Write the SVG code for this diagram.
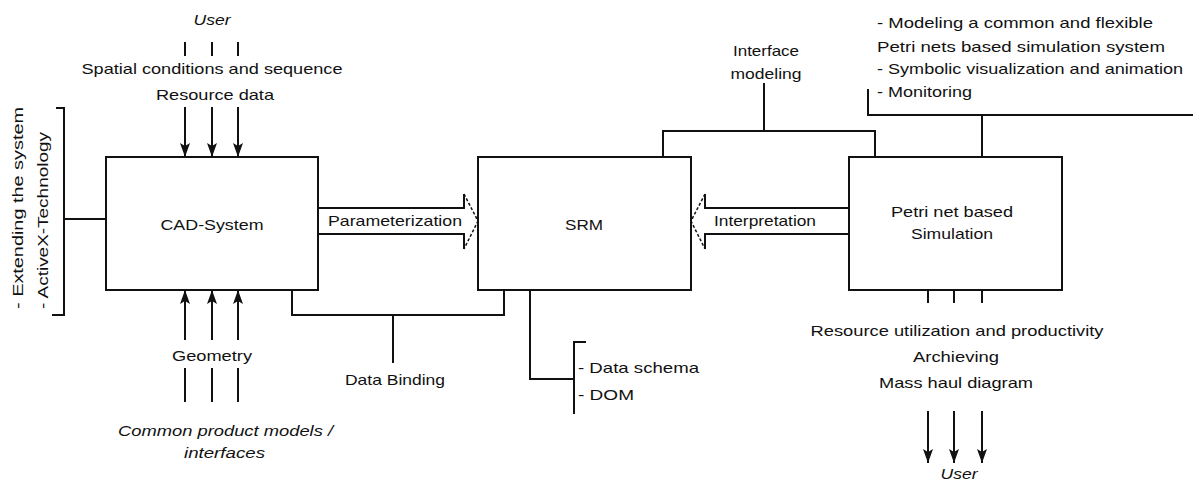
<svg xmlns="http://www.w3.org/2000/svg" width="1193" height="482" viewBox="0 0 1193 482">
<style>
text{font-family:"Liberation Sans",Arial,sans-serif;font-size:15px;fill:#111;}
.c{text-anchor:middle;}
.i{font-style:italic;}
.box{fill:#fff;stroke:#111;stroke-width:2;}
.ln{fill:none;stroke:#111;stroke-width:2;}
.dh{fill:none;stroke:#111;stroke-width:1.5;stroke-dasharray:3 2;}
</style>
<defs>
<marker id="ah" viewBox="0 0 14 10" refX="14" refY="5" markerWidth="14" markerHeight="10" markerUnits="userSpaceOnUse" orient="auto">
<path d="M0,0 L14,5 L0,10 L3,5 z" fill="#111"/>
</marker>
</defs>
<rect width="1193" height="482" fill="#fff"/>

<g id="connectors">
  <!-- top user inputs -->
  <path class="ln" d="M185,42V56M212,42V56M238,42V56"/>
  <line class="ln" x1="185" y1="107" x2="185" y2="157" marker-end="url(#ah)"/>
  <line class="ln" x1="212" y1="107" x2="212" y2="157" marker-end="url(#ah)"/>
  <line class="ln" x1="238" y1="107" x2="238" y2="157" marker-end="url(#ah)"/>
  <!-- bottom geometry inputs -->
  <line class="ln" x1="185" y1="340" x2="185" y2="290" marker-end="url(#ah)"/>
  <line class="ln" x1="212" y1="340" x2="212" y2="290" marker-end="url(#ah)"/>
  <line class="ln" x1="238" y1="340" x2="238" y2="290" marker-end="url(#ah)"/>
  <path class="ln" d="M185,368V402M212,368V402M238,368V402"/>
  <!-- left bracket -->
  <path class="ln" d="M56,108H64V315H52M64,219H106"/>
  <!-- Parameterization block arrow -->
  <path class="ln" d="M318,208H464V194M318,234H464V249"/>
  <path class="dh" d="M464,194L478,221L464,249"/>
  <!-- Interpretation block arrow -->
  <path class="ln" d="M849,208H705V194M849,234H705V249"/>
  <path class="dh" d="M705,194L691,221L705,249"/>
  <!-- Data binding -->
  <path class="ln" d="M292,290V315H504V290M393,315V363"/>
  <!-- DOM bracket -->
  <path class="ln" d="M530,290V379H574M586,342H574V414"/>
  <!-- Interface modeling -->
  <path class="ln" d="M663,157V131H875V157M764,131V83"/>
  <!-- Petri top bracket -->
  <path class="ln" d="M868,89V115H1193M982,115V157"/>
  <!-- Petri outputs -->
  <path class="ln" d="M928,290V303M954,290V303M982,290V303"/>
  <line class="ln" x1="928" y1="411" x2="928" y2="463" marker-end="url(#ah)"/>
  <line class="ln" x1="954" y1="411" x2="954" y2="463" marker-end="url(#ah)"/>
  <line class="ln" x1="982" y1="411" x2="982" y2="463" marker-end="url(#ah)"/>
</g>

<g id="cad">
  <rect class="box" x="106" y="157" width="212" height="133"/>
  <text class="c" x="212" y="230" textLength="103" lengthAdjust="spacingAndGlyphs">CAD-System</text>
</g>
<g id="srm">
  <rect class="box" x="478" y="157" width="213" height="133"/>
  <text class="c" x="584" y="230" textLength="38" lengthAdjust="spacingAndGlyphs">SRM</text>
</g>
<g id="petri">
  <rect class="box" x="849" y="157" width="213" height="133"/>
  <text class="c" x="952" y="217" textLength="122" lengthAdjust="spacingAndGlyphs">Petri net based</text>
  <text class="c" x="952" y="239" textLength="82" lengthAdjust="spacingAndGlyphs">Simulation</text>
</g>

<g id="user-top">
  <text class="c i" x="212" y="25" textLength="37" lengthAdjust="spacingAndGlyphs">User</text>
  <text class="c" x="212" y="74" textLength="261" lengthAdjust="spacingAndGlyphs">Spatial conditions and sequence</text>
  <text class="c" x="215" y="100" textLength="118" lengthAdjust="spacingAndGlyphs">Resource data</text>
</g>
<g id="extend">
  <text x="23" y="309" transform="rotate(-90 23 309)" textLength="202" lengthAdjust="spacingAndGlyphs">- Extending the system</text>
  <text x="48" y="309" transform="rotate(-90 48 309)" textLength="177" lengthAdjust="spacingAndGlyphs">- ActiveX-Technology</text>
</g>
<g id="geometry">
  <text class="c" x="212" y="361" textLength="80" lengthAdjust="spacingAndGlyphs">Geometry</text>
  <text class="i" x="118" y="436" textLength="215" lengthAdjust="spacingAndGlyphs">Common product models /</text>
  <text class="i" x="184" y="458" textLength="81" lengthAdjust="spacingAndGlyphs">interfaces</text>
</g>
<g id="arrow-labels">
  <text class="c" x="395" y="226" textLength="134" lengthAdjust="spacingAndGlyphs">Parameterization</text>
  <text class="c" x="765" y="226" textLength="102" lengthAdjust="spacingAndGlyphs">Interpretation</text>
</g>
<g id="databinding">
  <text class="c" x="395" y="385" textLength="100" lengthAdjust="spacingAndGlyphs">Data Binding</text>
</g>
<g id="dom">
  <text x="578" y="373" textLength="121" lengthAdjust="spacingAndGlyphs">- Data schema</text>
  <text x="578" y="400" textLength="56" lengthAdjust="spacingAndGlyphs">- DOM</text>
</g>
<g id="interface">
  <text class="c" x="766" y="56" textLength="66" lengthAdjust="spacingAndGlyphs">Interface</text>
  <text class="c" x="766" y="79" textLength="71" lengthAdjust="spacingAndGlyphs">modeling</text>
</g>
<g id="petri-notes">
  <text x="877" y="28" textLength="276" lengthAdjust="spacingAndGlyphs">- Modeling  a common and flexible</text>
  <text x="877" y="52" textLength="288" lengthAdjust="spacingAndGlyphs">Petri nets based simulation system</text>
  <text x="877" y="74" textLength="306" lengthAdjust="spacingAndGlyphs">- Symbolic visualization and animation</text>
  <text x="877" y="97" textLength="95" lengthAdjust="spacingAndGlyphs">- Monitoring</text>
</g>
<g id="outputs">
  <text class="c" x="957" y="336" textLength="293" lengthAdjust="spacingAndGlyphs">Resource utilization and productivity</text>
  <text class="c" x="956" y="362" textLength="86" lengthAdjust="spacingAndGlyphs">Archieving</text>
  <text class="c" x="956" y="388" textLength="154" lengthAdjust="spacingAndGlyphs">Mass haul diagram</text>
  <text class="c i" x="959" y="479" textLength="37" lengthAdjust="spacingAndGlyphs">User</text>
</g>
</svg>
